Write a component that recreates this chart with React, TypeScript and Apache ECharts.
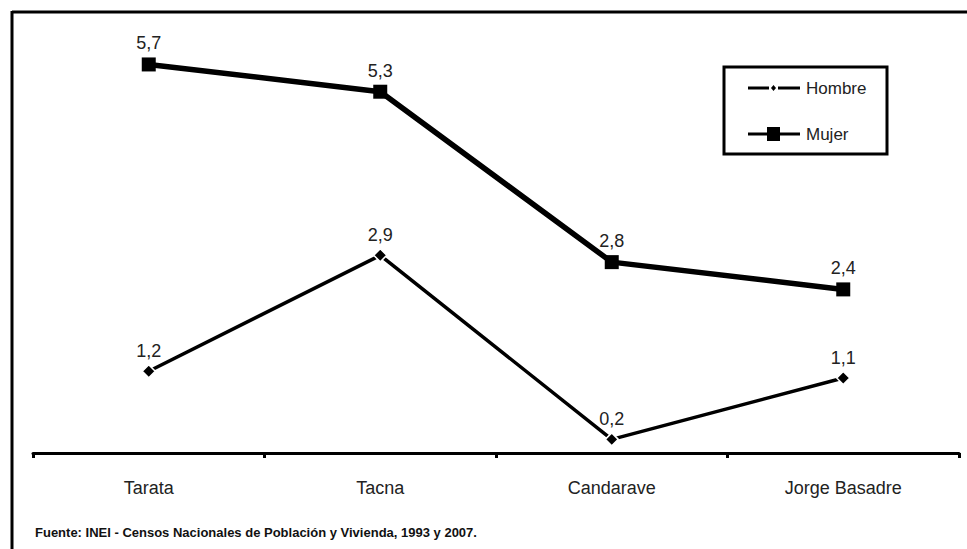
import React, { useEffect, useRef } from "react";
import * as echarts from "echarts";

const categories = ["Tarata", "Tacna", "Candarave", "Jorge Basadre"];
const hombre = [1.2, 2.9, 0.2, 1.1];
const mujer = [5.7, 5.3, 2.8, 2.4];
const seriesNames = ["Hombre", "Mujer"];
const sourceText = "Fuente: INEI - Censos Nacionales de Población y Vivienda, 1993 y 2007.";

const FONT = '"Liberation Sans Narrow", "Arial Narrow", "Liberation Sans", Arial, sans-serif';

export default function App() {
  const ref = useRef<HTMLDivElement>(null);
  useEffect(() => {
    if (!ref.current) return;
    const chart = echarts.init(ref.current, undefined, { renderer: "svg" });
    const fmt = (p: any) => String(p.value).replace(".", ",");
    chart.setOption({
      animation: false,
      backgroundColor: "#ffffff",
      grid: { left: 33, right: 8, top: 44, bottom: 96 },
      xAxis: {
        type: "category",
        data: categories,
        boundaryGap: true,
        axisLine: { lineStyle: { color: "#000", width: 3 } },
        axisTick: { show: true, length: 5, lineStyle: { color: "#000", width: 3 } },
        axisLabel: { color: "#222", fontSize: 18, fontFamily: FONT, margin: 26 },
      },
      yAxis: {
        type: "value",
        min: 0,
        max: 6,
        show: false,
        splitLine: { show: false },
      },
      series: [
        {
          name: seriesNames[0],
          type: "line",
          data: hombre,
          symbol: "diamond",
          symbolSize: 13,
          itemStyle: { color: "#000", borderColor: "#fff", borderWidth: 1.5 },
          lineStyle: { color: "#000", width: 3.5 },
          label: { show: true, position: "top", distance: 4, formatter: fmt, color: "#222", fontSize: 18, fontFamily: FONT },
          z: 3,
        },
        {
          name: seriesNames[1],
          type: "line",
          data: mujer,
          symbol: "rect",
          symbolSize: 14,
          itemStyle: { color: "#000" },
          lineStyle: { color: "#000", width: 5.5 },
          label: { show: true, position: "top", distance: 5, formatter: fmt, color: "#222", fontSize: 18, fontFamily: FONT },
          z: 4,
        },
      ],
      graphic: [
        { type: "line", shape: { x1: 12, y1: 12, x2: 967, y2: 12 }, style: { stroke: "#000", lineWidth: 3 } },
        { type: "line", shape: { x1: 12, y1: 11, x2: 12, y2: 549 }, style: { stroke: "#000", lineWidth: 3 } },
        { type: "rect", shape: { x: 724, y: 67, width: 163, height: 87 }, style: { fill: "#fff", stroke: "#000", lineWidth: 3 }, z: 10 },
        { type: "line", shape: { x1: 748, y1: 88, x2: 769, y2: 88 }, style: { stroke: "#000", lineWidth: 3 }, z: 11 },
        { type: "line", shape: { x1: 778, y1: 88, x2: 800, y2: 88 }, style: { stroke: "#000", lineWidth: 3 }, z: 11 },
        { type: "polygon", shape: { points: [[773.5, 85], [776, 88], [773.5, 91], [771, 88]] }, style: { fill: "#000" }, z: 11 },
        { type: "text", x: 806, y: 88, style: { text: seriesNames[0], fill: "#222", fontSize: 17, fontFamily: FONT, verticalAlign: "middle" }, z: 11 },
        { type: "line", shape: { x1: 748, y1: 134, x2: 800, y2: 134 }, style: { stroke: "#000", lineWidth: 3 }, z: 11 },
        { type: "rect", shape: { x: 767, y: 127, width: 13, height: 14 }, style: { fill: "#000" }, z: 11 },
        { type: "text", x: 806, y: 134, style: { text: seriesNames[1], fill: "#222", fontSize: 17, fontFamily: FONT, verticalAlign: "middle" }, z: 11 },
        { type: "text", x: 35, y: 532, style: { text: sourceText, fill: "#111", fontSize: 13, fontWeight: "bold", fontFamily: FONT, verticalAlign: "middle" } },
      ],
    });
    return () => chart.dispose();
  }, []);
  return <div ref={ref} style={{ position: "fixed", left: 0, top: 0, width: 967, height: 549 }} />;
}
